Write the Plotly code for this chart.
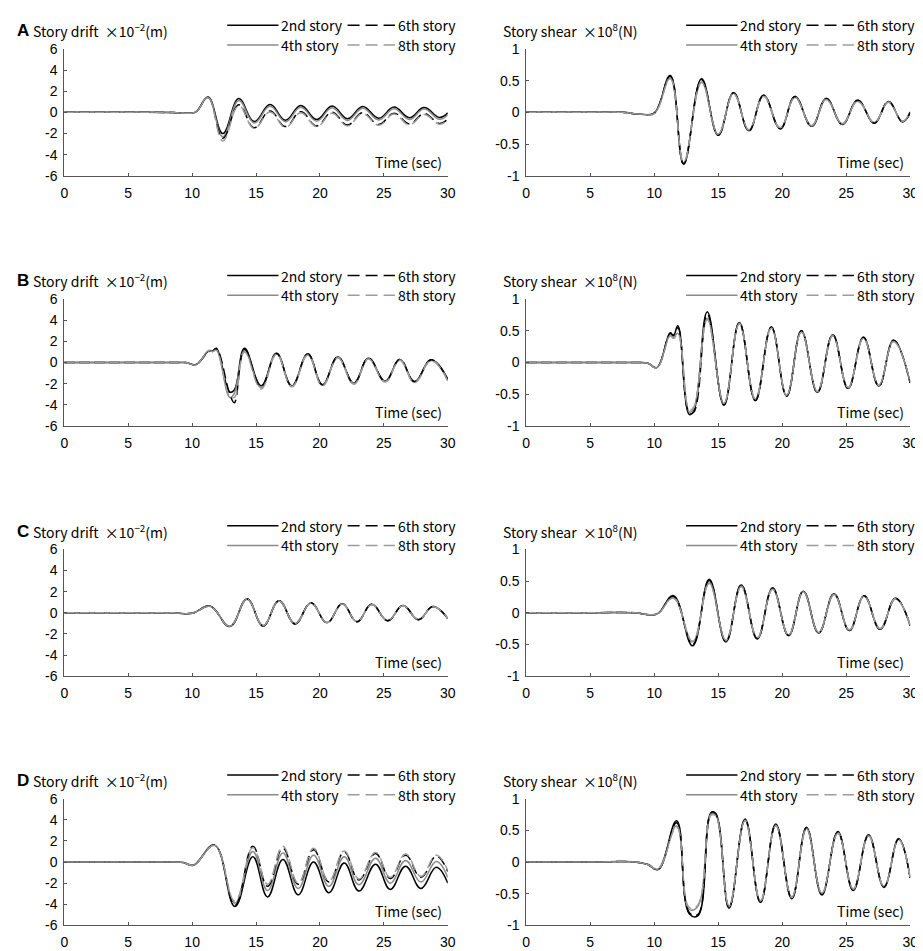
import plotly.graph_objects as go

# ---- data (time in sec) ----
# A
t_a_drift = [0, 5, 8.5, 9.6, 10.3, 11.25, 12.4, 13.65, 14.85, 16.1, 17.3, 18.5, 19.75, 20.95, 22.15, 23.35, 24.6, 25.8, 27.0, 28.15, 29.35, 30]
drift_a_2nd = [0, 0, -0.02, -0.08, 0.05, 1.45, -2.0, 1.3, -0.87, 0.74, -0.74, 0.65, -0.68, 0.6, -0.6, 0.55, -0.55, 0.5, -0.5, 0.45, -0.48, -0.05]
drift_a_4th = [0, 0, -0.02, -0.08, 0.05, 1.42, -2.3, 1.12, -1.0, 0.58, -0.88, 0.48, -0.83, 0.44, -0.76, 0.4, -0.72, 0.35, -0.68, 0.32, -0.66, -0.25]
drift_a_6th = [0, 0, -0.02, -0.08, 0.05, 1.4, -2.45, 0.72, -1.45, 0.14, -1.35, 0.06, -1.28, 0.02, -1.2, -0.04, -1.15, -0.08, -1.1, -0.12, -1.05, -0.65]
drift_a_8th = [0, 0, -0.02, -0.08, 0.05, 1.38, -2.7, 0.62, -1.52, 0.04, -1.42, -0.04, -1.35, -0.08, -1.28, -0.12, -1.22, -0.16, -1.18, -0.2, -1.12, -0.75]

t_a_shear = [0, 5, 7.5, 9.0, 10.0, 11.25, 12.3, 13.7, 15.0, 16.2, 17.4, 18.55, 19.85, 21.0, 22.3, 23.45, 24.7, 25.9, 27.2, 28.3, 29.4, 30]
shear_a_2nd = [0, 0, 0, -0.03, -0.01, 0.58, -0.82, 0.53, -0.36, 0.31, -0.29, 0.27, -0.26, 0.25, -0.22, 0.22, -0.19, 0.19, -0.17, 0.17, -0.15, 0.0]
shear_a_4th = [0, 0, 0, -0.03, -0.02, 0.54, -0.8, 0.48, -0.35, 0.3, -0.28, 0.26, -0.25, 0.24, -0.21, 0.21, -0.18, 0.18, -0.16, 0.16, -0.14, 0.01]
shear_a_6th = [0, 0, 0, -0.03, -0.01, 0.57, -0.81, 0.52, -0.36, 0.31, -0.29, 0.27, -0.26, 0.25, -0.22, 0.22, -0.19, 0.19, -0.17, 0.17, -0.15, 0.0]
shear_a_8th = [0, 0, 0, -0.03, -0.02, 0.53, -0.78, 0.47, -0.34, 0.29, -0.27, 0.25, -0.24, 0.23, -0.21, 0.2, -0.18, 0.17, -0.16, 0.16, -0.14, 0.01]

# B
t_b_drift = [0, 5, 8.5, 9.5, 10.3, 11.3, 11.6, 11.9, 12.95, 13.3, 14.1, 15.4, 16.6, 17.8, 19.05, 20.2, 21.4, 22.65, 23.8, 25.1, 26.25, 27.4, 28.7, 30]
drift_b_2nd = [0, 0, 0, 0, -0.19, 1.1, 1.05, 1.35, -2.8, -2.6, 1.35, -2.2, 0.87, -2.2, 0.8, -2.1, 0.53, -1.95, 0.4, -1.75, 0.3, -1.8, 0.25, -1.55]
drift_b_4th = [0, 0, 0, 0, -0.2, 1.15, 1.1, 1.2, -3.3, -2.9, 1.1, -2.35, 0.82, -2.25, 0.75, -2.15, 0.48, -2.0, 0.35, -1.8, 0.25, -1.85, 0.2, -1.65]
drift_b_6th = [0, 0, 0, 0, -0.18, 1.05, 1.1, 1.3, -3.0, -3.8, 1.25, -2.25, 0.85, -2.2, 0.8, -2.1, 0.55, -1.95, 0.42, -1.75, 0.32, -1.8, 0.27, -1.6]
drift_b_8th = [0, 0, 0, 0, -0.2, 1.1, 1.05, 1.15, -3.2, -3.3, 1.0, -2.5, 0.8, -2.3, 0.72, -2.2, 0.45, -2.05, 0.33, -1.85, 0.22, -1.9, 0.18, -1.75]

t_b_shear = [0, 5, 8.5, 9.5, 10.2, 11.25, 11.5, 11.85, 12.75, 13.1, 14.15, 15.45, 16.65, 17.9, 19.15, 20.35, 21.5, 22.75, 23.95, 25.15, 26.35, 27.55, 28.7, 30]
shear_b_2nd = [0, 0, 0, -0.01, -0.08, 0.47, 0.42, 0.58, -0.82, -0.76, 0.8, -0.67, 0.63, -0.6, 0.56, -0.53, 0.5, -0.47, 0.44, -0.41, 0.4, -0.37, 0.35, -0.32]
shear_b_4th = [0, 0, 0, -0.01, -0.08, 0.44, 0.4, 0.46, -0.78, -0.72, 0.7, -0.65, 0.62, -0.58, 0.55, -0.52, 0.49, -0.46, 0.43, -0.4, 0.39, -0.36, 0.34, -0.31]
shear_b_6th = [0, 0, 0, -0.01, -0.08, 0.46, 0.43, 0.55, -0.8, -0.78, 0.76, -0.67, 0.63, -0.6, 0.56, -0.53, 0.5, -0.47, 0.44, -0.41, 0.4, -0.37, 0.35, -0.32]
shear_b_8th = [0, 0, 0, -0.01, -0.08, 0.42, 0.38, 0.44, -0.75, -0.7, 0.68, -0.64, 0.61, -0.57, 0.54, -0.51, 0.48, -0.45, 0.42, -0.39, 0.38, -0.35, 0.33, -0.3]

# C
t_c_drift = [0, 5, 8.5, 10.0, 11.4, 12.95, 14.3, 15.55, 16.8, 18.05, 19.3, 20.55, 21.75, 22.9, 24.05, 25.3, 26.5, 27.7, 28.85, 30]
drift_c_2nd = [0, 0, 0, -0.05, 0.65, -1.3, 1.3, -1.24, 1.15, -1.05, 0.95, -0.95, 0.85, -0.85, 0.8, -0.75, 0.7, -0.65, 0.6, -0.55]
drift_c_4th = [0, 0, 0, -0.05, 0.62, -1.28, 1.28, -1.22, 1.13, -1.03, 0.93, -0.93, 0.83, -0.83, 0.78, -0.73, 0.68, -0.63, 0.58, -0.53]
drift_c_6th = [0, 0, 0, -0.05, 0.6, -1.3, 1.3, -1.24, 1.15, -1.05, 0.95, -0.95, 0.85, -0.85, 0.8, -0.75, 0.7, -0.65, 0.6, -0.55]
drift_c_8th = [0, 0, 0, -0.05, 0.58, -1.27, 1.27, -1.21, 1.12, -1.02, 0.92, -0.92, 0.82, -0.82, 0.77, -0.72, 0.67, -0.62, 0.57, -0.52]

t_c_shear = [0, 5, 8.5, 9.65, 10.3, 11.5, 13.0, 14.3, 15.6, 16.8, 18.05, 19.25, 20.5, 21.65, 22.85, 24.05, 25.25, 26.4, 27.65, 28.85, 30]
shear_c_2nd = [0, 0, 0, -0.03, -0.01, 0.27, -0.52, 0.53, -0.46, 0.44, -0.41, 0.39, -0.36, 0.34, -0.32, 0.3, -0.28, 0.27, -0.26, 0.23, -0.2]
shear_c_4th = [0, 0, 0, -0.03, -0.01, 0.24, -0.46, 0.47, -0.44, 0.42, -0.4, 0.37, -0.35, 0.33, -0.31, 0.29, -0.27, 0.26, -0.25, 0.22, -0.19]
shear_c_6th = [0, 0, 0, -0.03, -0.01, 0.26, -0.5, 0.51, -0.46, 0.44, -0.41, 0.39, -0.36, 0.34, -0.32, 0.3, -0.28, 0.27, -0.26, 0.23, -0.2]
shear_c_8th = [0, 0, 0, -0.03, -0.01, 0.23, -0.45, 0.46, -0.43, 0.41, -0.39, 0.37, -0.35, 0.33, -0.31, 0.29, -0.27, 0.26, -0.25, 0.22, -0.19]

# D
t_d_drift = [0, 5, 8.5, 9.3, 10.1, 11.75, 13.35, 14.75, 15.9, 17.1, 18.3, 19.5, 20.7, 21.9, 23.05, 24.35, 25.5, 26.7, 27.9, 29.1, 30]
drift_d_2nd = [0, 0, 0, -0.05, -0.3, 1.6, -4.2, 0.5, -3.3, 0.25, -3.1, 0.0, -2.9, -0.1, -2.75, -0.2, -2.6, -0.4, -2.5, -0.5, -2.0]
drift_d_4th = [0, 0, 0, -0.05, -0.3, 1.6, -3.9, 1.0, -2.7, 0.85, -2.5, 0.65, -2.3, 0.5, -2.15, 0.35, -2.0, 0.15, -1.9, 0.05, -1.45]
drift_d_6th = [0, 0, 0, -0.05, -0.28, 1.6, -4.1, 1.5, -2.3, 1.3, -2.1, 1.15, -1.9, 0.95, -1.7, 0.8, -1.55, 0.65, -1.45, 0.55, -0.9]
drift_d_8th = [0, 0, 0, -0.05, -0.28, 1.55, -3.7, 1.35, -2.1, 1.5, -2.0, 1.3, -1.8, 1.05, -1.6, 0.9, -1.45, 0.75, -1.35, 0.65, -0.8]

t_d_shear = [0, 5, 8.5, 9.5, 10.3, 11.75, 12.75, 13.4, 14.45, 14.8, 15.85, 17.1, 18.3, 19.5, 20.75, 21.9, 23.1, 24.35, 25.55, 26.75, 27.95, 29.1, 30]
shear_d_2nd = [0, 0, 0, -0.04, -0.12, 0.65, -0.82, -0.85, 0.78, 0.77, -0.73, 0.68, -0.64, 0.6, -0.58, 0.55, -0.52, 0.48, -0.45, 0.43, -0.4, 0.37, -0.25]
shear_d_4th = [0, 0, 0, -0.04, -0.11, 0.57, -0.75, -0.7, 0.76, 0.75, -0.7, 0.66, -0.62, 0.58, -0.56, 0.53, -0.5, 0.46, -0.43, 0.42, -0.39, 0.36, -0.24]
shear_d_6th = [0, 0, 0, -0.04, -0.12, 0.62, -0.8, -0.83, 0.78, 0.76, -0.72, 0.67, -0.63, 0.59, -0.57, 0.54, -0.51, 0.47, -0.44, 0.42, -0.39, 0.36, -0.25]
shear_d_8th = [0, 0, 0, -0.04, -0.11, 0.55, -0.72, -0.68, 0.74, 0.73, -0.69, 0.65, -0.61, 0.57, -0.55, 0.52, -0.49, 0.45, -0.42, 0.41, -0.38, 0.35, -0.24]

panel_letters = ["A", "B", "C", "D"]
story_names = ["2nd story", "4th story", "6th story", "8th story"]
x_ticks = [0, 5, 10, 15, 20, 25, 30]
drift_ticks = [-6, -4, -2, 0, 2, 4, 6]
drift_ticktext = ["-6", "-4", "-2", "0", "2", "4", "6"]
shear_ticks = [-1, -0.5, 0, 0.5, 1]
shear_ticktext = ["-1", "-0.5", "0", "0.5", "1"]

panels = [
    (t_a_drift, [drift_a_2nd, drift_a_4th, drift_a_6th, drift_a_8th], t_a_shear, [shear_a_2nd, shear_a_4th, shear_a_6th, shear_a_8th]),
    (t_b_drift, [drift_b_2nd, drift_b_4th, drift_b_6th, drift_b_8th], t_b_shear, [shear_b_2nd, shear_b_4th, shear_b_6th, shear_b_8th]),
    (t_c_drift, [drift_c_2nd, drift_c_4th, drift_c_6th, drift_c_8th], t_c_shear, [shear_c_2nd, shear_c_4th, shear_c_6th, shear_c_8th]),
    (t_d_drift, [drift_d_2nd, drift_d_4th, drift_d_6th, drift_d_8th], t_d_shear, [shear_d_2nd, shear_d_4th, shear_d_6th, shear_d_8th]),
]

# ---- styling ----
W, H = 923, 951
BLACK = "#000000"
GRAY4 = "#8a8a8a"
GRAY8 = "#9c9c9c"
AXC = "#555555"
TXT = "Noto Sans CJK JP"
NUM = "Liberation Sans, Arial"
styles = [(BLACK, "solid"), (GRAY4, "solid"), (BLACK, "10px,5px"), (GRAY8, "10px,5px")]

row_tops = [33.5, 288, 542.5, 796]
plot_h = 129
col_x = [(53, 441.5), (521, 910)]
legend_x = [218, 683]


def px(x):
    return x / W


def py(y):
    return 1 - y / H


fig = go.Figure()
layout = {}
annotations = []
shapes = []

for r, (td, drifts, ts, shears) in enumerate(panels):
    top = row_tops[r]
    dy = top - row_tops[0]
    for c in range(2):
        n = r * 2 + 1 + c
        xa = "x" if n == 1 else f"x{n}"
        ya = "y" if n == 1 else f"y{n}"
        tt, series = (td, drifts) if c == 0 else (ts, shears)
        for k, vals in enumerate(series):
            color, dash = styles[k]
            fig.add_trace(go.Scatter(
                x=tt, y=vals, mode="lines", name=story_names[k],
                line=dict(color=color, width=1.5, dash=dash, shape="spline", smoothing=1.2),
                xaxis=xa, yaxis=ya, showlegend=False,
            ))
        x0, x1 = col_x[c]
        layout["xaxis" if n == 1 else f"xaxis{n}"] = dict(
            domain=[px(x0), px(x1)], anchor=ya, range=[0, 30], tickvals=x_ticks,
            ticks="inside", ticklen=3, tickcolor=AXC, showline=True, linecolor=AXC,
            linewidth=1, showgrid=False, zeroline=False, ticklabelstandoff=4,
            tickfont=dict(family=NUM, size=14, color="#000"),
        )
        ydict = dict(
            domain=[py(top + plot_h), py(top)], anchor=xa,
            ticks="inside", ticklen=3, tickcolor=AXC, showline=True, linecolor=AXC,
            linewidth=1, showgrid=False, zeroline=False, ticklabelstandoff=3,
            tickfont=dict(family=NUM, size=14, color="#000"),
        )
        if c == 0:
            ydict.update(range=[-6, 6], tickvals=drift_ticks, ticktext=drift_ticktext)
        else:
            ydict.update(range=[-1, 1], tickvals=shear_ticks, ticktext=shear_ticktext)
        layout["yaxis" if n == 1 else f"yaxis{n}"] = ydict

        # "Time (sec)" label inside the plot
        annotations.append(dict(
            x=px(x1 - 4), y=py(148 + dy), xref="paper", yref="paper",
            text="Time (sec)", showarrow=False, xanchor="right", yanchor="middle",
            font=dict(family=TXT, size=14, color="#000"),
        ))

        # hand-made legend
        lx = legend_x[c]
        entries = [
            (lx, 9.5, BLACK, "solid", story_names[0]),
            (lx + 122, 9.5, BLACK, "12px,6px", story_names[2]),
            (lx, 29.5, GRAY4, "solid", story_names[1]),
            (lx + 122, 29.5, GRAY8, "12px,6px", story_names[3]),
        ]
        for ex, ey, ecol, edash, etxt in entries:
            w = 52 if edash == "solid" else 48
            shapes.append(dict(
                type="line", xref="paper", yref="paper",
                x0=px(ex), x1=px(ex + w), y0=py(ey + dy), y1=py(ey + dy),
                line=dict(color=ecol, width=1.5, dash=edash),
            ))
            annotations.append(dict(
                x=px(ex + w + 1), y=py(ey + dy), xref="paper", yref="paper",
                text=etxt, showarrow=False, xanchor="left", yanchor="middle",
                font=dict(family=TXT, size=14, color="#000"),
            ))

    # panel titles
    annotations.append(dict(
        x=px(3), y=py(15 + dy), xref="paper", yref="paper", text="<b>" + panel_letters[r] + "</b>",
        showarrow=False, xanchor="left", yanchor="middle",
        font=dict(family=NUM, size=17, color="#000"),
    ))
    annotations.append(dict(
        x=px(19), y=py(15 + dy), xref="paper", yref="paper",
        text="Story drift \u00a0\u00d710<sup>\u22122</sup>(m)",
        showarrow=False, xanchor="left", yanchor="middle",
        font=dict(family=TXT, size=14, color="#000"),
    ))
    annotations.append(dict(
        x=px(495), y=py(15 + dy), xref="paper", yref="paper",
        text="Story shear \u00a0\u00d710<sup>8</sup>(N)",
        showarrow=False, xanchor="left", yanchor="middle",
        font=dict(family=TXT, size=14, color="#000"),
    ))

fig.update_layout(
    width=W, height=H, margin=dict(l=0, r=0, t=0, b=0),
    paper_bgcolor="white", plot_bgcolor="white",
    showlegend=False, annotations=annotations, shapes=shapes,
    **layout,
)

fig.write_html("out.html")
